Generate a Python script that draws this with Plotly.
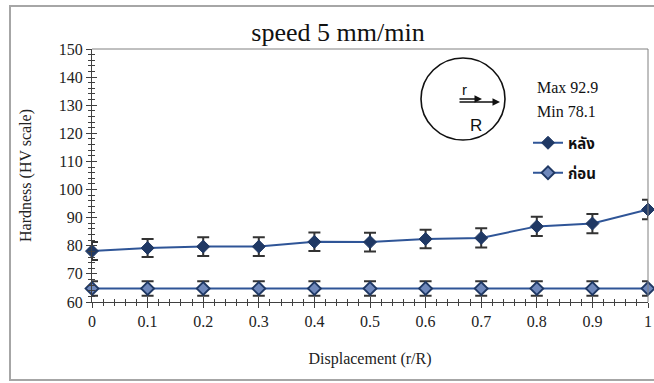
import plotly.graph_objects as go

x_vals = [0, 0.1, 0.2, 0.3, 0.4, 0.5, 0.6, 0.7, 0.8, 0.9, 1.0]
after_vals = [78.1, 79.2, 79.7, 79.7, 81.4, 81.3, 82.4, 82.8, 86.9, 87.9, 92.9]
after_err = [3.2, 3.2, 3.3, 3.3, 3.3, 3.3, 3.3, 3.4, 3.4, 3.4, 3.5]
before_vals = [64.8, 64.8, 64.8, 64.8, 64.8, 64.8, 64.8, 64.8, 64.8, 64.8, 64.8]
before_err = [2.6, 2.6, 2.6, 2.6, 2.6, 2.6, 2.6, 2.6, 2.6, 2.6, 2.6]
x_ticks = [0, 0.1, 0.2, 0.3, 0.4, 0.5, 0.6, 0.7, 0.8, 0.9, 1]
x_ticklabels = ["0", "0.1", "0.2", "0.3", "0.4", "0.5", "0.6", "0.7", "0.8", "0.9", "1"]
y_ticks = [60, 70, 80, 90, 100, 110, 120, 130, 140, 150]

LINE = "#2f5597"
MARK = "#1f3864"
SERIF = "Liberation Serif, Times New Roman, serif"
THAI = "Noto Sans Thai, Loma, Garuda, Tlwg Typo, Noto Sans, sans-serif"

fig = go.Figure()
fig.add_trace(go.Scatter(
    x=x_vals, y=after_vals, name="หลัง", mode="lines+markers",
    line=dict(color=LINE, width=2),
    marker=dict(symbol="diamond", size=10, color=MARK, line=dict(color=MARK, width=1)),
    error_y=dict(type="data", array=after_err, color="#333333", thickness=2, width=6),
    cliponaxis=False, legend="legend",
))
fig.add_trace(go.Scatter(
    x=x_vals, y=before_vals, name="ก่อน", mode="lines+markers",
    line=dict(color=LINE, width=2),
    marker=dict(symbol="diamond", size=10, color="#6f88bb", line=dict(color=MARK, width=1.8)),
    error_y=dict(type="data", array=before_err, color="#333333", thickness=2, width=6),
    cliponaxis=False, legend="legend2",
))
# invisible trace to carry the overlay axes (inner half of the cross ticks)
fig.add_trace(go.Scatter(x=[None], y=[None], xaxis="x2", yaxis="y2", showlegend=False, hoverinfo="skip"))

L, R, T, B = 92, 6, 49, 81
W, H = 654, 383
pw, ph = W - L - R, H - T - B

def px(x):
    return (x - L) / pw

def py(y):
    return (H - B - y) / ph

axis_common = dict(showgrid=False, zeroline=False, linecolor="#404040", linewidth=1.2,
                   tickcolor="#404040", tickfont=dict(family=SERIF, size=16, color="#222"),
                   ticklabeloverflow="allow")

fig.update_layout(
    width=W, height=H,
    margin=dict(l=L, r=R, t=T, b=B, autoexpand=False),
    paper_bgcolor="white", plot_bgcolor="white",
    title=dict(text="speed 5 mm/min", x=338 / W, xanchor="center", y=1 - 32 / H, yanchor="middle",
               xref="container", yref="container", font=dict(family=SERIF, size=26, color="#111")),
    xaxis=dict(range=[0, 1], tickvals=x_ticks, ticktext=x_ticklabels, ticks="outside", ticklen=5,
               minor=dict(dtick=0.02, ticks="outside", ticklen=3, tickcolor="#404040"),
               mirror=False,
               title=dict(text="Displacement (r/R)", font=dict(family=SERIF, size=16, color="#222"), standoff=23),
               **axis_common),
    yaxis=dict(range=[60, 150], tickvals=y_ticks, ticks="outside", ticklen=5,
               minor=dict(dtick=2, ticks="outside", ticklen=3, tickcolor="#404040"),
               title=dict(text="Hardness (HV scale)", font=dict(family=SERIF, size=16, color="#222"), standoff=23),
               **axis_common),
    xaxis2=dict(range=[0, 1], overlaying="x", side="bottom", showticklabels=False, showgrid=False,
                zeroline=False, showline=False, tickvals=x_ticks, ticks="inside", ticklen=5, tickcolor="#404040",
                minor=dict(dtick=0.02, ticks="inside", ticklen=3, tickcolor="#404040")),
    yaxis2=dict(range=[60, 150], overlaying="y", side="left", showticklabels=False, showgrid=False,
                zeroline=False, showline=False, tickvals=y_ticks, ticks="inside", ticklen=5, tickcolor="#404040",
                minor=dict(dtick=2, ticks="inside", ticklen=3, tickcolor="#404040")),
    legend=dict(x=px(528), y=py(143), xanchor="left", yanchor="middle", bgcolor="rgba(0,0,0,0)",
                font=dict(family=THAI, size=15, color="#111", weight="bold"), itemwidth=30),
    legend2=dict(x=px(528), y=py(173), xanchor="left", yanchor="middle", bgcolor="rgba(0,0,0,0)",
                 font=dict(family=THAI, size=15, color="#111", weight="bold"), itemwidth=30),
    showlegend=True,
)

shapes = [
    # outer chart frame
    dict(type="rect", xref="paper", yref="paper", x0=px(10), x1=px(662), y0=py(380), y1=py(6),
         line=dict(color="#a6a6a6", width=2), layer="below"),
    # plot-area top and right border
    dict(type="line", xref="paper", yref="paper", x0=0, x1=1, y0=1, y1=1, line=dict(color="#808080", width=1)),
    dict(type="line", xref="paper", yref="paper", x0=1, x1=1, y0=0, y1=1, line=dict(color="#808080", width=1)),
    # circle
    dict(type="circle", xref="paper", yref="paper", x0=px(421), x1=px(505), y0=py(140), y1=py(58),
         line=dict(color="#111", width=1.6)),
]
fig.update_layout(shapes=shapes)

annotations = [
    dict(xref="paper", yref="paper", x=px(500), y=py(102), ax=-42, ay=0, text="", showarrow=True,
         arrowhead=2, arrowsize=1, arrowwidth=1.5, arrowcolor="#111"),
    dict(xref="paper", yref="paper", x=px(482), y=py(99), ax=-24, ay=0, text="", showarrow=True,
         arrowhead=2, arrowsize=1, arrowwidth=1.5, arrowcolor="#111"),
    dict(xref="paper", yref="paper", x=px(469), y=py(89), text="r", showarrow=False, yanchor="middle",
         font=dict(family="Liberation Sans, Arial, sans-serif", size=15, color="#111")),
    dict(xref="paper", yref="paper", x=px(484), y=py(114), text="R", showarrow=False,
         font=dict(family="Liberation Sans, Arial, sans-serif", size=17, color="#111")),
    dict(xref="paper", yref="paper", x=px(535), y=py(77), xanchor="left", text="Max 92.9", showarrow=False,
         font=dict(family=SERIF, size=16, color="#111")),
    dict(xref="paper", yref="paper", x=px(535), y=py(101), xanchor="left", text="Min 78.1", showarrow=False,
         font=dict(family=SERIF, size=16, color="#111")),
]
fig.update_layout(annotations=annotations)

fig.write_html("out.html", post_script="document.body.style.margin='0';",
               config={"displayModeBar": False})
